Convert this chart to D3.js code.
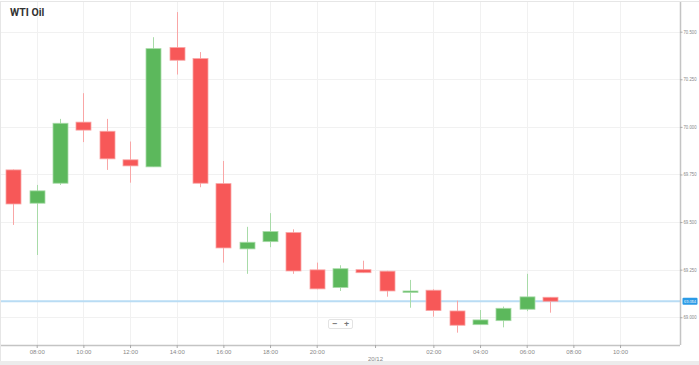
<!DOCTYPE html>
<html>
<head>
<meta charset="utf-8">
<script src="https://cdn.jsdelivr.net/npm/d3@7"></script>
<style>
  html, body { margin: 0; padding: 0; background: #fff; }
  svg { display: block; font-family: "Open Sans", "Liberation Sans", sans-serif; }
</style>
</head>
<body>
<svg id="chart" width="699" height="365"></svg>
<script>
// ---- data ----
const title = "WTI Oil";
const times = ["07:00","08:00","09:00","10:00","11:00","12:00","13:00","14:00","15:00","16:00","17:00","18:00",
               "19:00","20:00","21:00","22:00","00:00","01:00","02:00","03:00","04:00","05:00","06:00","07:00"];
const opens  = [69.774,69.599,69.704,70.025,69.977,69.827,69.790,70.417,70.359,69.702,69.359,69.397,
                69.445,69.249,69.156,69.250,69.242,69.130,69.142,69.033,68.961,68.982,69.042,69.105];
const highs  = [69.776,69.695,70.042,70.177,70.042,69.923,70.471,70.603,70.393,69.821,69.475,69.547,
                69.462,69.287,69.273,69.297,69.244,69.196,69.147,69.087,69.038,69.056,69.228,69.105];
const lows   = [69.485,69.327,69.695,69.920,69.774,69.707,69.790,70.275,69.683,69.287,69.228,69.368,
                69.228,69.147,69.138,69.233,69.108,69.050,69.003,68.919,68.961,68.947,69.032,69.024];
const closes = [69.595,69.664,70.019,69.983,69.832,69.795,70.411,70.350,69.704,69.364,69.394,69.450,
                69.243,69.149,69.255,69.234,69.138,69.138,69.035,68.958,68.986,69.047,69.107,69.084];
const currentPrice = 69.084;
const yTicks = [69.000, 69.250, 69.500, 69.750, 70.000, 70.250, 70.500];
// x tick positions expressed as candle slot indices (market closes one hour daily)
const xTickSlots  = [1, 3, 5, 7, 9, 11, 13, 15.5, 18, 20, 22, 24, 26];
const xTickLabels = ["08:00","10:00","12:00","14:00","16:00","18:00","20:00","20/12","02:00","04:00","06:00","08:00","10:00"];

// ---- layout ----
const svg = d3.select("#chart");
const plot = {left: 1, right: 680, top: 2, bottom: 345};

const x = d3.scaleLinear().domain([-0.53, 28.57]).range([plot.left, plot.right]);
const y = d3.scaleLinear().domain([68.85, 70.6665]).range([345.8, 0]);

const candles = times.map((t, i) => ({i, t, o: opens[i], h: highs[i], l: lows[i], c: closes[i]}));

// outer frame
svg.append("rect").attr("x", 0).attr("y", 361).attr("width", 699).attr("height", 4).attr("fill", "#ececec");
svg.append("line").attr("x1", 0).attr("x2", 699).attr("y1", 1.5).attr("y2", 1.5).attr("stroke", "#e6e6e6");
svg.append("line").attr("x1", 0.5).attr("x2", 0.5).attr("y1", 1).attr("y2", 361).attr("stroke", "#e6e6e6");

// grid
const grid = svg.append("g");
grid.selectAll("line.h").data(yTicks).join("line")
  .attr("x1", plot.left).attr("x2", plot.right)
  .attr("y1", d => Math.round(y(d)) + 0.5).attr("y2", d => Math.round(y(d)) + 0.5)
  .attr("stroke", "#f1f1f1");
grid.selectAll("line.v").data(xTickSlots).join("line")
  .attr("x1", d => Math.round(x(d)) + 0.5).attr("x2", d => Math.round(x(d)) + 0.5)
  .attr("y1", plot.top).attr("y2", plot.bottom)
  .attr("stroke", "#f1f1f1");

// title
svg.append("text").attr("x", 10).attr("y", 16).text(title)
  .attr("font-size", 10.5).attr("font-weight", "bold").attr("fill", "#333")
  .attr("font-family", "Roboto, 'Liberation Sans', sans-serif");

// current price line
svg.append("line")
  .attr("x1", plot.left).attr("x2", plot.right)
  .attr("y1", y(currentPrice)).attr("y2", y(currentPrice))
  .attr("stroke", "#b9dcf4").attr("stroke-width", 2);

// candles
const up = "#5cb85c", upLight = "#a8dba8", down = "#f75858", downLight = "#f9a6a6";
const bw = 15;
const cg = svg.append("g");
cg.selectAll("line.wick").data(candles).join("line")
  .attr("x1", d => Math.round(x(d.i)) + 0.5).attr("x2", d => Math.round(x(d.i)) + 0.5)
  .attr("y1", d => y(d.h)).attr("y2", d => y(d.l))
  .attr("stroke", d => d.c >= d.o ? upLight : downLight).attr("stroke-width", 1);
cg.selectAll("rect.body").data(candles).join("rect")
  .attr("x", d => Math.round(x(d.i)) - bw / 2 + 0.5)
  .attr("y", d => y(Math.max(d.o, d.c)))
  .attr("width", bw)
  .attr("height", d => Math.max(1.5, Math.abs(y(d.o) - y(d.c))))
  .attr("fill", d => d.c >= d.o ? up : down)
  .attr("stroke", d => d.c >= d.o ? upLight : downLight).attr("stroke-width", 0.8);

// right axis
const yAxis = d3.axisRight(y).tickValues(yTicks).tickFormat(d3.format(".3f")).tickSize(2.5).tickPadding(1);
const ya = svg.append("g").attr("transform", `translate(${plot.right},0)`).call(yAxis);
ya.select(".domain").attr("d", `M0.5,${plot.top}V${plot.bottom}`).attr("stroke", "#c4c4c4").attr("stroke-width", 1.5);
ya.selectAll(".tick line").attr("stroke", "#aaa");
ya.selectAll(".tick text").attr("font-size", 4.6).attr("fill", "#888")
  .attr("textLength", 13).attr("lengthAdjust", "spacingAndGlyphs");

// bottom axis
const xAxis = d3.axisBottom(x).tickValues(xTickSlots).tickFormat((d, i) => xTickLabels[i]).tickSize(3).tickPadding(2);
const xa = svg.append("g").attr("transform", `translate(0,${plot.bottom})`).call(xAxis);
xa.select(".domain").attr("d", `M${plot.left},0.5H${plot.right}`).attr("stroke", "#c4c4c4").attr("stroke-width", 1.5);
xa.selectAll(".tick line").attr("stroke", "#aaa");
xa.selectAll(".tick text").attr("font-size", 6).attr("fill", "#888")
  .attr("dy", (d, i) => xTickLabels[i].includes("/") ? "1.9em" : "0.71em");

// current price label
const pl = svg.append("g").attr("transform", `translate(682.5,${y(currentPrice)})`);
pl.append("rect").attr("x", 0).attr("y", -3.5).attr("width", 15).attr("height", 7).attr("rx", 1).attr("fill", "#2b9be6");
pl.append("text").attr("x", 7.5).attr("y", 0).attr("dy", "0.35em").attr("text-anchor", "middle")
  .attr("font-size", 4.3).attr("fill", "#fff")
  .attr("textLength", 12).attr("lengthAdjust", "spacingAndGlyphs")
  .text(d3.format(".3f")(currentPrice));

// zoom buttons
const zb = svg.append("g").attr("transform", "translate(328.5,319.5)");
zb.append("rect").attr("width", 24).attr("height", 9).attr("rx", 1.5).attr("fill", "#fff").attr("stroke", "#e3e3e3");
zb.append("text").attr("x", 6).attr("y", 4.5).attr("dy", "0.35em").attr("text-anchor", "middle").attr("font-size", 9).attr("font-weight", "bold").attr("fill", "#777").text("−");
zb.append("text").attr("x", 18).attr("y", 4.5).attr("dy", "0.35em").attr("text-anchor", "middle").attr("font-size", 9).attr("font-weight", "bold").attr("fill", "#777").text("+");
</script>
</body>
</html>
